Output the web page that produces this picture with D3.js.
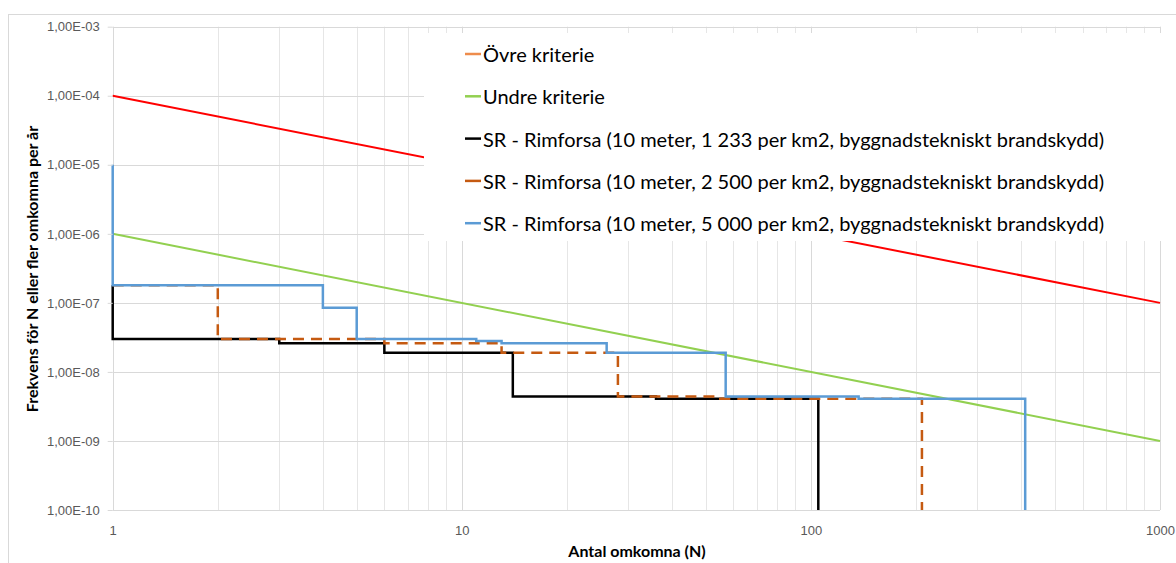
<!DOCTYPE html>
<html>
<head>
<meta charset="utf-8">
<script src="https://cdn.jsdelivr.net/npm/d3@7/dist/d3.min.js"></script>
<style>
  body { margin: 0; background: #ffffff; }
  svg { font-family: Lato, "Open Sans", sans-serif; }
  .gridMajor { stroke: #d9d9d9; stroke-width: 1; }
  .gridMinor { stroke: #e6e6e6; stroke-width: 1; }
  .axis text { fill: #595959; font-size: 13px; }
  .axis line { stroke: #d9d9d9; }
  .axis path { display: none; }
  .title { font-weight: bold; font-size: 16px; fill: #000000; }
  .legend text { font-size: 20px; fill: #000000; }
</style>
</head>
<body>
<script>
// criteria lines (F-N curve limits)
var criteriaN = [1, 1000];
var upperCriterion = [1e-4, 1e-7];
var lowerCriterion = [1e-6, 1e-9];

// step series: N breakpoints and the frequency level between them
var blackStart = 1.8e-7;
var blackN = [1, 3, 6, 14, 36, 105];
var blackF = [3.0e-8, 2.6e-8, 1.9e-8, 4.4e-9, 4.1e-9];

var orangeStart = 1.8e-7;
var orangeN = [1, 2, 6, 13, 28, 55, 208];
var orangeF = [1.8e-7, 3.0e-8, 2.6e-8, 1.9e-8, 4.4e-9, 4.1e-9];

var blueStart = 1e-5;
var blueN = [1, 4, 5, 11, 13, 26, 57, 137, 411];
var blueF = [1.8e-7, 8.5e-8, 3.0e-8, 2.8e-8, 2.6e-8, 1.9e-8, 4.4e-9, 4.1e-9];

var stepEnd = 1e-10;

// axes
var xTicks = [1, 10, 100, 1000];
var xTickLabels = ["1", "10", "100", "1000"];
var yTicks = [1e-3, 1e-4, 1e-5, 1e-6, 1e-7, 1e-8, 1e-9, 1e-10];
var yTickLabels = ["1,00E-03", "1,00E-04", "1,00E-05", "1,00E-06", "1,00E-07", "1,00E-08", "1,00E-09", "1,00E-10"];

var legendLabels = [
    "Övre kriterie",
    "Undre kriterie",
    "SR - Rimforsa (10 meter, 1 233 per km2, byggnadstekniskt brandskydd)",
    "SR - Rimforsa (10 meter, 2 500 per km2, byggnadstekniskt brandskydd)",
    "SR - Rimforsa (10 meter, 5 000 per km2, byggnadstekniskt brandskydd)"
];
var legendColors = ["#ee8c4c", "#92d050", "#000000", "#c55a11", "#5b9bd5"];

/** Class drawing the F-N chart. */
class FNChart {
    constructor() {
        this.svg = d3.select("body").append("svg")
            .attr("width", 1176)
            .attr("height", 563);
        this.x = d3.scaleLog().domain([criteriaN[0], criteriaN[1]]).range([112.7, 1160]);
        this.y = d3.scaleLog().domain([1e-10, 1e-3]).range([510, 26.7]);
    }

    // builds the corner points of a step series
    stepPoints(start, ns, fs) {
        var pts = [[ns[0], start]];
        for (var i = 0; i < fs.length; i++) {
            pts.push([ns[i], fs[i]]);
            pts.push([ns[i + 1], fs[i]]);
        }
        pts.push([ns[ns.length - 1], stepEnd]);
        return pts;
    }

    drawGrid() {
        var g = this.svg.append("g");
        // chart frame
        g.append("rect")
            .attr("x", 8.5).attr("y", 14.5)
            .attr("width", 1200).attr("height", 600)
            .attr("fill", "none").attr("stroke", "#d9d9d9");

        var minor = [];
        for (var d = 1; d < 1000; d *= 10) {
            for (var k = 2; k <= 9; k++) minor.push(d * k);
        }
        g.selectAll(".gridMinor").data(minor).enter().append("line")
            .classed("gridMinor", true)
            .attr("x1", d => Math.round(this.x(d)) + 0.5).attr("x2", d => Math.round(this.x(d)) + 0.5)
            .attr("y1", this.y(1e-3)).attr("y2", this.y(1e-10));
        g.selectAll(".vMajor").data(xTicks).enter().append("line")
            .attr("class", "gridMajor vMajor")
            .attr("x1", d => Math.round(this.x(d)) + 0.5).attr("x2", d => Math.round(this.x(d)) + 0.5)
            .attr("y1", this.y(1e-3)).attr("y2", this.y(1e-10));
        g.selectAll(".hMajor").data(yTicks).enter().append("line")
            .attr("class", "gridMajor hMajor")
            .attr("x1", this.x(1)).attr("x2", this.x(1000))
            .attr("y1", d => Math.round(this.y(d)) + 0.5).attr("y2", d => Math.round(this.y(d)) + 0.5);
    }

    drawAxes() {
        var yAxis = d3.axisLeft(this.y)
            .tickValues(yTicks)
            .tickFormat((d, i) => yTickLabels[i])
            .tickSize(5).tickPadding(8);
        this.svg.append("g").classed("axis", true)
            .attr("transform", "translate(" + this.x(1) + ",0)")
            .call(yAxis);

        var xAxis = d3.axisBottom(this.x)
            .tickValues(xTicks)
            .tickFormat((d, i) => xTickLabels[i])
            .tickSize(0).tickPadding(16);
        this.svg.append("g").classed("axis", true)
            .attr("transform", "translate(0," + this.y(1e-10) + ")")
            .call(xAxis);

        this.svg.append("text").classed("title", true)
            .attr("transform", "translate(31,269) rotate(-90)")
            .attr("text-anchor", "middle")
            .attr("dominant-baseline", "central")
            .text("Frekvens för N eller fler omkomna per år");
        this.svg.append("text").classed("title", true)
            .attr("x", 637).attr("y", 550)
            .attr("text-anchor", "middle")
            .attr("dominant-baseline", "central")
            .text("Antal omkomna (N)");
    }

    drawSeries() {
        var line = d3.line().x(d => this.x(d[0])).y(d => this.y(d[1]));
        var g = this.svg.append("g").attr("fill", "none");

        g.append("path")
            .attr("d", line([[criteriaN[0], upperCriterion[0]], [criteriaN[1], upperCriterion[1]]]))
            .attr("stroke", "#ff0000").attr("stroke-width", 2);
        g.append("path")
            .attr("d", line([[criteriaN[0], lowerCriterion[0]], [criteriaN[1], lowerCriterion[1]]]))
            .attr("stroke", "#92d050").attr("stroke-width", 2);

        g.append("path")
            .attr("d", line(this.stepPoints(blackStart, blackN, blackF)))
            .attr("stroke", "#000000").attr("stroke-width", 2.5);
        g.append("path")
            .attr("d", line(this.stepPoints(orangeStart, orangeN, orangeF)))
            .attr("stroke", "#c55a11").attr("stroke-width", 2.5)
            .attr("stroke-dasharray", "11,7");
        g.append("path")
            .attr("d", line(this.stepPoints(blueStart, blueN, blueF)))
            .attr("stroke", "#5b9bd5").attr("stroke-width", 2.5);
    }

    drawLegend() {
        var g = this.svg.append("g").classed("legend", true);
        g.append("rect")
            .attr("x", 424).attr("y", 33)
            .attr("width", 760).attr("height", 208)
            .attr("fill", "#ffffff");
        for (var i = 0; i < legendLabels.length; i++) {
            var cy = 54 + i * 42.3;
            g.append("line")
                .attr("x1", 465).attr("x2", 481)
                .attr("y1", cy).attr("y2", cy)
                .attr("stroke", legendColors[i]).attr("stroke-width", 2.5);
            g.append("text")
                .attr("x", 483).attr("y", cy)
                .attr("dominant-baseline", "central")
                .text(legendLabels[i]);
        }
    }
}

var chart = new FNChart();
chart.drawGrid();
chart.drawSeries();
chart.drawAxes();
chart.drawLegend();
</script>
</body>
</html>
